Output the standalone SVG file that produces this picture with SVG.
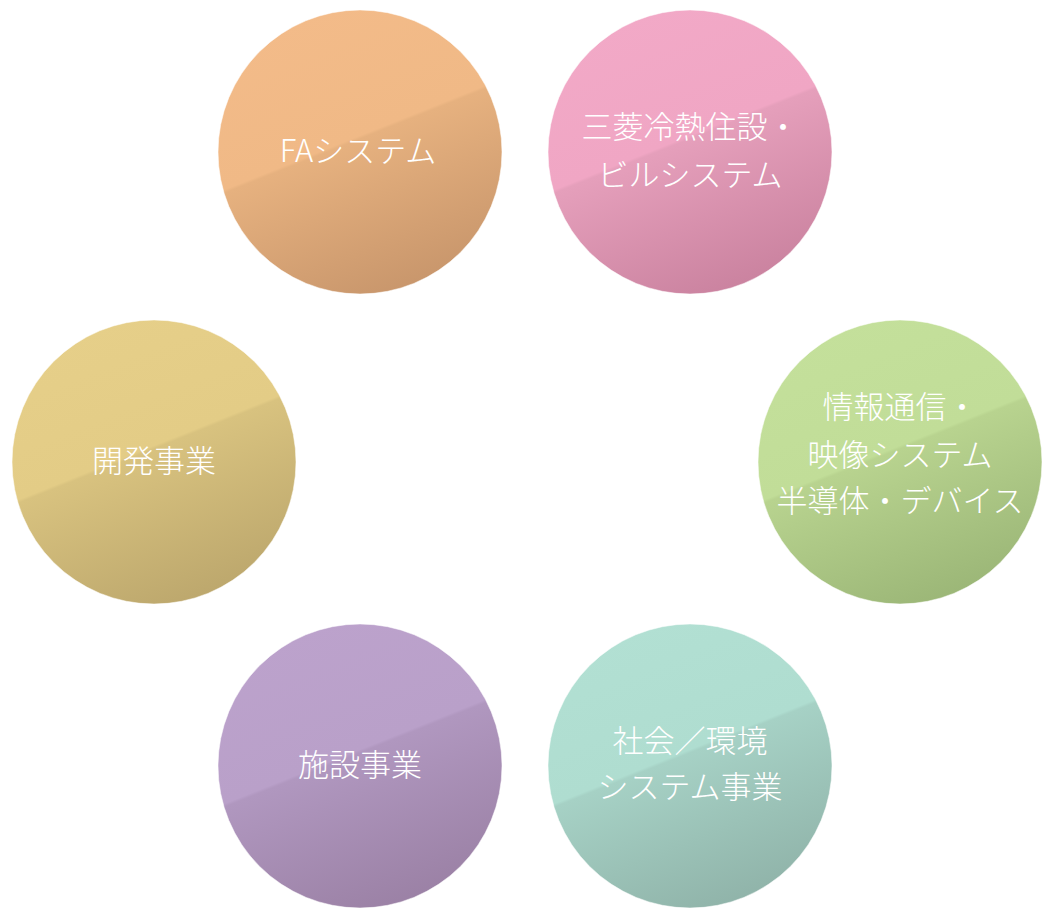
<svg xmlns="http://www.w3.org/2000/svg" width="1054" height="922" viewBox="0 0 1054 922">
<style>
text{font-family:"Noto Sans CJK JP","Noto Sans",sans-serif;font-size:31px;fill:#fff;text-anchor:middle;font-weight:300}
.s{stroke:#fff;stroke-opacity:.5;stroke-width:1}
</style>
<defs>
<linearGradient id="go" x1="0.3" y1="0" x2="0.7" y2="1"><stop offset="0" stop-color="#f3bb89"/><stop offset="0.45" stop-color="#f0b986"/><stop offset="0.46" stop-color="#e6b17f"/><stop offset="1" stop-color="#c7956b"/></linearGradient>
<linearGradient id="gp" x1="0.3" y1="0" x2="0.7" y2="1"><stop offset="0" stop-color="#f2a9c7"/><stop offset="0.45" stop-color="#f0a6c4"/><stop offset="0.46" stop-color="#e59fbb"/><stop offset="1" stop-color="#c9819e"/></linearGradient>
<linearGradient id="gg" x1="0.3" y1="0" x2="0.7" y2="1"><stop offset="0" stop-color="#c4e09b"/><stop offset="0.45" stop-color="#c1dd98"/><stop offset="0.46" stop-color="#b8d38f"/><stop offset="1" stop-color="#9ab576"/></linearGradient>
<linearGradient id="gt" x1="0.3" y1="0" x2="0.7" y2="1"><stop offset="0" stop-color="#b2e0d3"/><stop offset="0.45" stop-color="#afddd0"/><stop offset="0.46" stop-color="#a6d1c5"/><stop offset="1" stop-color="#8fb2a8"/></linearGradient>
<linearGradient id="gu" x1="0.3" y1="0" x2="0.7" y2="1"><stop offset="0" stop-color="#bca2cc"/><stop offset="0.45" stop-color="#b9a0c9"/><stop offset="0.46" stop-color="#b097bf"/><stop offset="1" stop-color="#9a80a4"/></linearGradient>
<linearGradient id="gy" x1="0.3" y1="0" x2="0.7" y2="1"><stop offset="0" stop-color="#e6cf89"/><stop offset="0.45" stop-color="#e3cc86"/><stop offset="0.46" stop-color="#d8c27f"/><stop offset="1" stop-color="#bba66c"/></linearGradient>
</defs>
<g id="connectors"></g>
<g id="fa"><circle class="s" cx="360" cy="152" r="142" fill="url(#go)"/><text x="358" y="162">FAシステム</text></g>
<g id="reinetsu"><circle class="s" cx="690" cy="152" r="142" fill="url(#gp)"/><text x="690" y="138">三菱冷熱住設・</text><text x="690" y="186">ビルシステム</text></g>
<g id="joho"><circle class="s" cx="900" cy="462" r="142" fill="url(#gg)"/><text x="900" y="418">情報通信・</text><text x="900" y="466">映像システム</text><text x="900" y="512">半導体・デバイス</text></g>
<g id="shakai"><circle class="s" cx="690" cy="766" r="142" fill="url(#gt)"/><text x="690" y="752">社会／環境</text><text x="690" y="798">システム事業</text></g>
<g id="shisetsu"><circle class="s" cx="360" cy="766" r="142" fill="url(#gu)"/><text x="360" y="776">施設事業</text></g>
<g id="kaihatsu"><circle class="s" cx="154" cy="462" r="142" fill="url(#gy)"/><text x="154" y="472">開発事業</text></g>
</svg>
